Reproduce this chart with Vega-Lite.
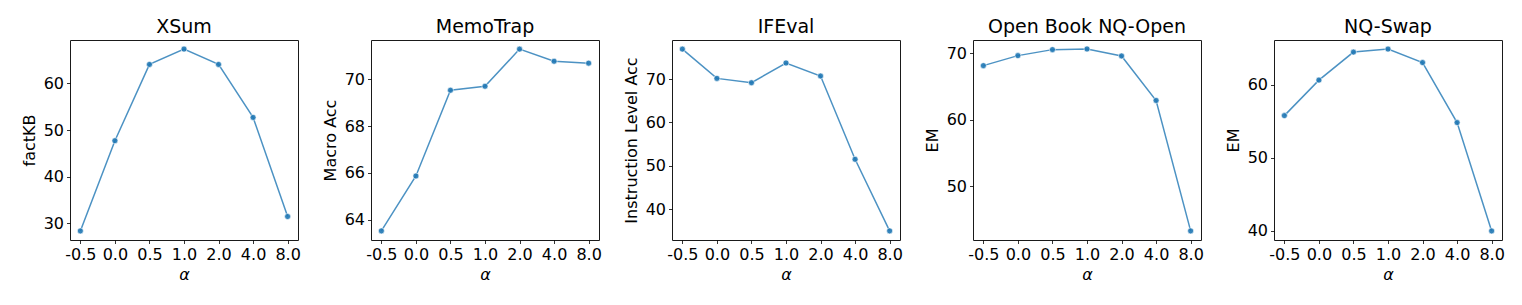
{
  "$schema": "https://vega.github.io/schema/vega-lite/v6.json",
  "padding": {"left": 20, "top": 17, "right": 5, "bottom": 5},
  "bounds": "flush",
  "spacing": 73,
  "config": {
    "font": "DejaVu Sans",
    "view": {"stroke": "#1a1a1a", "strokeWidth": 1},
    "title": {"fontSize": 19, "fontWeight": "normal", "color": "#000", "offset": 3, "font": "DejaVu Sans"},
    "axis": {
      "domain": false,
      "grid": false,
      "tickColor": "#000",
      "tickSize": 3.5,
      "tickWidth": 0.8,
      "labelFontSize": 16,
      "labelColor": "#000",
      "labelPadding": 3,
      "titleFontSize": 16,
      "titleFontWeight": "normal",
      "titleColor": "#000",
      "labelFont": "DejaVu Sans",
      "titleFont": "DejaVu Sans"
    }
  },
  "data": {"values": [
    {"task": "XSum", "alpha": "-0.5", "value": 28.3},
    {"task": "XSum", "alpha": "0.0", "value": 47.7},
    {"task": "XSum", "alpha": "0.5", "value": 64.1},
    {"task": "XSum", "alpha": "1.0", "value": 67.4},
    {"task": "XSum", "alpha": "2.0", "value": 64.1},
    {"task": "XSum", "alpha": "4.0", "value": 52.7},
    {"task": "XSum", "alpha": "8.0", "value": 31.4},
    {"task": "MemoTrap", "alpha": "-0.5", "value": 63.52},
    {"task": "MemoTrap", "alpha": "0.0", "value": 65.87},
    {"task": "MemoTrap", "alpha": "0.5", "value": 69.54},
    {"task": "MemoTrap", "alpha": "1.0", "value": 69.71},
    {"task": "MemoTrap", "alpha": "2.0", "value": 71.3},
    {"task": "MemoTrap", "alpha": "4.0", "value": 70.78},
    {"task": "MemoTrap", "alpha": "8.0", "value": 70.7},
    {"task": "IFEval", "alpha": "-0.5", "value": 76.9},
    {"task": "IFEval", "alpha": "0.0", "value": 70.15},
    {"task": "IFEval", "alpha": "0.5", "value": 69.15},
    {"task": "IFEval", "alpha": "1.0", "value": 73.7},
    {"task": "IFEval", "alpha": "2.0", "value": 70.7},
    {"task": "IFEval", "alpha": "4.0", "value": 51.5},
    {"task": "IFEval", "alpha": "8.0", "value": 35.0},
    {"task": "NQOpen", "alpha": "-0.5", "value": 68.14},
    {"task": "NQOpen", "alpha": "0.0", "value": 69.65},
    {"task": "NQOpen", "alpha": "0.5", "value": 70.55},
    {"task": "NQOpen", "alpha": "1.0", "value": 70.65},
    {"task": "NQOpen", "alpha": "2.0", "value": 69.6},
    {"task": "NQOpen", "alpha": "4.0", "value": 62.9},
    {"task": "NQOpen", "alpha": "8.0", "value": 43.27},
    {"task": "NQSwap", "alpha": "-0.5", "value": 55.75},
    {"task": "NQSwap", "alpha": "0.0", "value": 60.6},
    {"task": "NQSwap", "alpha": "0.5", "value": 64.43},
    {"task": "NQSwap", "alpha": "1.0", "value": 64.84},
    {"task": "NQSwap", "alpha": "2.0", "value": 63.0},
    {"task": "NQSwap", "alpha": "4.0", "value": 54.8},
    {"task": "NQSwap", "alpha": "8.0", "value": 40.0}
  ]},
  "hconcat": [
    {
      "title": "XSum",
      "width": 228, "height": 200,
      "transform": [{"filter": "datum.task === 'XSum'"}],
      "encoding": {
        "x": {"field": "alpha", "type": "ordinal", "sort": ["-0.5","0.0","0.5","1.0","2.0","4.0","8.0"], "scale": {"type": "point", "padding": 0.3}, "axis": {"title": "α", "labelAngle": 0, "titleFontStyle": "italic", "titlePadding": 4}},
        "y": {"field": "value", "type": "quantitative", "scale": {"domain": [26.35, 69.35], "nice": false, "zero": false}, "axis": {"title": "factKB", "values": [30, 40, 50, 60], "titlePadding": 6}}
      },
      "layer": [
        {"mark": {"type": "line", "color": "#1f77b4", "opacity": 0.8, "strokeWidth": 1.5}},
        {"mark": {"type": "point", "filled": true, "fill": "#1f77b4", "fillOpacity": 0.9, "stroke": "white", "strokeWidth": 0.6, "strokeOpacity": 1, "size": 36}}
      ]
    },
    {
      "title": "MemoTrap",
      "width": 228, "height": 200,
      "transform": [{"filter": "datum.task === 'MemoTrap'"}],
      "encoding": {
        "x": {"field": "alpha", "type": "ordinal", "sort": ["-0.5","0.0","0.5","1.0","2.0","4.0","8.0"], "scale": {"type": "point", "padding": 0.3}, "axis": {"title": "α", "labelAngle": 0, "titleFontStyle": "italic", "titlePadding": 4}},
        "y": {"field": "value", "type": "quantitative", "scale": {"domain": [63.13, 71.69], "nice": false, "zero": false}, "axis": {"title": "Macro Acc", "values": [64, 66, 68, 70], "titlePadding": 6}}
      },
      "layer": [
        {"mark": {"type": "line", "color": "#1f77b4", "opacity": 0.8, "strokeWidth": 1.5}},
        {"mark": {"type": "point", "filled": true, "fill": "#1f77b4", "fillOpacity": 0.9, "stroke": "white", "strokeWidth": 0.6, "strokeOpacity": 1, "size": 36}}
      ]
    },
    {
      "title": "IFEval",
      "width": 228, "height": 200,
      "transform": [{"filter": "datum.task === 'IFEval'"}],
      "encoding": {
        "x": {"field": "alpha", "type": "ordinal", "sort": ["-0.5","0.0","0.5","1.0","2.0","4.0","8.0"], "scale": {"type": "point", "padding": 0.3}, "axis": {"title": "α", "labelAngle": 0, "titleFontStyle": "italic", "titlePadding": 4}},
        "y": {"field": "value", "type": "quantitative", "scale": {"domain": [32.9, 79.0], "nice": false, "zero": false}, "axis": {"title": "Instruction Level Acc", "values": [40, 50, 60, 70], "titlePadding": 6}}
      },
      "layer": [
        {"mark": {"type": "line", "color": "#1f77b4", "opacity": 0.8, "strokeWidth": 1.5}},
        {"mark": {"type": "point", "filled": true, "fill": "#1f77b4", "fillOpacity": 0.9, "stroke": "white", "strokeWidth": 0.6, "strokeOpacity": 1, "size": 36}}
      ]
    },
    {
      "title": "Open Book NQ-Open",
      "width": 228, "height": 200,
      "transform": [{"filter": "datum.task === 'NQOpen'"}],
      "encoding": {
        "x": {"field": "alpha", "type": "ordinal", "sort": ["-0.5","0.0","0.5","1.0","2.0","4.0","8.0"], "scale": {"type": "point", "padding": 0.3}, "axis": {"title": "α", "labelAngle": 0, "titleFontStyle": "italic", "titlePadding": 4}},
        "y": {"field": "value", "type": "quantitative", "scale": {"domain": [41.9, 72.0], "nice": false, "zero": false}, "axis": {"title": "EM", "values": [50, 60, 70], "titlePadding": 6}}
      },
      "layer": [
        {"mark": {"type": "line", "color": "#1f77b4", "opacity": 0.8, "strokeWidth": 1.5}},
        {"mark": {"type": "point", "filled": true, "fill": "#1f77b4", "fillOpacity": 0.9, "stroke": "white", "strokeWidth": 0.6, "strokeOpacity": 1, "size": 36}}
      ]
    },
    {
      "title": "NQ-Swap",
      "width": 228, "height": 200,
      "transform": [{"filter": "datum.task === 'NQSwap'"}],
      "encoding": {
        "x": {"field": "alpha", "type": "ordinal", "sort": ["-0.5","0.0","0.5","1.0","2.0","4.0","8.0"], "scale": {"type": "point", "padding": 0.3}, "axis": {"title": "α", "labelAngle": 0, "titleFontStyle": "italic", "titlePadding": 4}},
        "y": {"field": "value", "type": "quantitative", "scale": {"domain": [38.76, 66.08], "nice": false, "zero": false}, "axis": {"title": "EM", "values": [40, 50, 60], "titlePadding": 6}}
      },
      "layer": [
        {"mark": {"type": "line", "color": "#1f77b4", "opacity": 0.8, "strokeWidth": 1.5}},
        {"mark": {"type": "point", "filled": true, "fill": "#1f77b4", "fillOpacity": 0.9, "stroke": "white", "strokeWidth": 0.6, "strokeOpacity": 1, "size": 36}}
      ]
    }
  ]
}
